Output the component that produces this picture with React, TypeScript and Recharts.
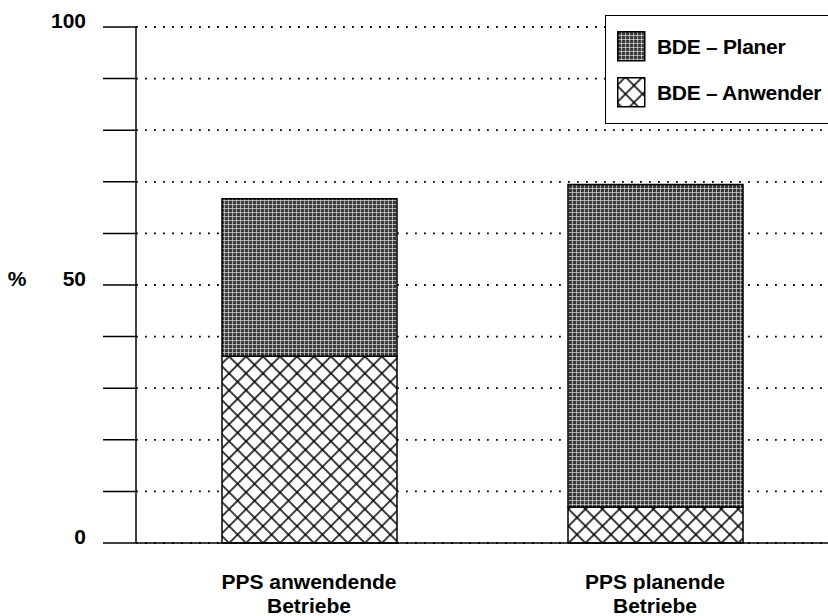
import { BarChart, Bar, XAxis, YAxis, CartesianGrid } from 'recharts'

// percent of firms
const categories = ['PPS anwendende\nBetriebe', 'PPS planende\nBetriebe']
const anwender = [36.2, 7.0]
const planer = [30.5, 62.5]
const seriesNames = ['BDE – Planer', 'BDE – Anwender']
const yTicks = [0, 10, 20, 30, 40, 50, 60, 70, 80, 90, 100]
const yLabels = [0, 50, 100]

const FONT = '"Liberation Sans", Arial, Helvetica, sans-serif'

const chartData = categories.map((name, i) => ({
  name,
  anwender: anwender[i],
  planer: planer[i],
}))

function Patterns() {
  return (
    <defs>
      <pattern id="hatch" patternUnits="userSpaceOnUse" width="12" height="12" patternTransform="rotate(45)">
        <rect width="12" height="12" fill="#fff" />
        <path d="M0 6 H12 M6 0 V12" stroke="#000" strokeWidth="1.5" />
      </pattern>
      <pattern id="stipple" patternUnits="userSpaceOnUse" width="4" height="4">
        <rect width="4" height="4" fill="#3a3a3a" />
        <path d="M0 0.5 H4 M0.5 0 V4" stroke="#fff" strokeOpacity="0.55" strokeWidth="1" />
      </pattern>
    </defs>
  )
}

function YTick(props: any) {
  const { x, y, payload } = props
  if (!yLabels.includes(payload.value)) return <g />
  return (
    <text x={x} y={y + 1} textAnchor="end" fontSize={21} fontWeight="bold" fontFamily={FONT} fill="#000">
      {payload.value}
    </text>
  )
}

function XTick(props: any) {
  const { x, y, payload } = props
  const lines = String(payload.value).split('\n')
  return (
    <text x={x} y={y} textAnchor="middle" fontSize={21} fontWeight="bold" fontFamily={FONT} fill="#000">
      {lines.map((l, i) => (
        <tspan key={i} x={x} dy={i === 0 ? 38 : 24}>{l}</tspan>
      ))}
    </text>
  )
}

function PercentLabel(props: any) {
  const vb = props.viewBox
  return (
    <text x={vb.x + 17} y={vb.y + vb.height / 2 + 1} textAnchor="middle" fontSize={21} fontWeight="bold" fontFamily={FONT} fill="#000">
      %
    </text>
  )
}

function LegendBox() {
  const fills = ['url(#stipple)', 'url(#hatch)']
  return (
    <div
      style={{
        position: 'absolute', left: 605, top: 15, width: 223, height: 109,
        background: '#fff', borderTop: '1.5px solid #000', borderLeft: '1.5px solid #000',
        borderBottom: '1.5px solid #000', boxSizing: 'border-box',
        fontFamily: FONT, fontSize: 21, fontWeight: 'bold',
      }}
    >
      {seriesNames.map((s, i) => (
        <div key={s} style={{ position: 'absolute', left: 11, top: i === 0 ? 15 : 61, display: 'flex', alignItems: 'center' }}>
          <svg width={29} height={31}>
            <Patterns />
            <rect x={0.75} y={0.75} width={27} height={29} fill={fills[i]} stroke="#000" strokeWidth={1.5} />
          </svg>
          <span style={{ marginLeft: 11, whiteSpace: 'nowrap', letterSpacing: -0.3 }}>{s}</span>
        </div>
      ))}
    </div>
  )
}

export default function App() {
  return (
    <div style={{ position: 'absolute', left: 0, top: 0, width: 828, height: 616, background: '#fff' }}>
      <BarChart width={828} height={616} data={chartData} margin={{ top: 27, right: 0, bottom: 0, left: 0 }}>
        <Patterns />
        <CartesianGrid vertical={false} stroke="#000" strokeWidth={1.8} strokeDasharray="1.8 7.2" />
        <YAxis
          width={136}
          domain={[0, 100]}
          ticks={yTicks}
          interval={0}
          tickSize={33}
          tickMargin={17}
          tick={<YTick />}
          axisLine={{ stroke: '#000', strokeWidth: 1.5 }}
          tickLine={{ stroke: '#000', strokeWidth: 1.5 }}
          label={<PercentLabel />}
        />
        <XAxis
          dataKey="name"
          height={73}
          tickLine={false}
          axisLine={{ stroke: '#000', strokeWidth: 1.5 }}
          tick={<XTick />}
          interval={0}
        />
        <Bar dataKey="anwender" stackId="a" barSize={175} fill="url(#hatch)" stroke="#000" strokeWidth={1.5} isAnimationActive={false} />
        <Bar dataKey="planer" stackId="a" barSize={175} fill="url(#stipple)" stroke="#000" strokeWidth={1.5} isAnimationActive={false} />
      </BarChart>
      <LegendBox />
    </div>
  )
}
